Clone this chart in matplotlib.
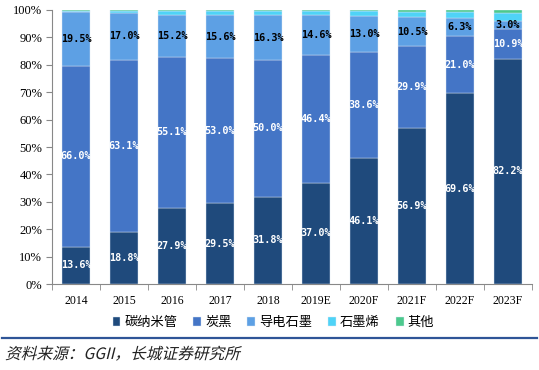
import matplotlib.pyplot as plt
import numpy as np
from matplotlib.patches import PathPatch
from matplotlib.textpath import TextPath
from matplotlib.font_manager import FontProperties
from matplotlib.transforms import Affine2D

plt.rcParams['font.family'] = ['Noto Sans CJK SC', 'DejaVu Sans']

anios = ['2014', '2015', '2016', '2017', '2018', '2019E', '2020F', '2021F', '2022F', '2023F']
nanotubos = [13.6, 18.8, 27.9, 29.5, 31.8, 37.0, 46.1, 56.9, 69.6, 82.2]
negro_humo = [66.0, 63.1, 55.1, 53.0, 50.0, 46.4, 38.6, 29.9, 21.0, 10.9]
grafito = [19.5, 17.0, 15.2, 15.6, 16.3, 14.6, 13.0, 10.5, 6.3, 3.0]
grafeno = [0.4, 0.6, 1.3, 1.4, 1.4, 1.5, 1.8, 2.1, 2.4, 2.9]
otros = [0.5, 0.5, 0.5, 0.5, 0.5, 0.5, 0.5, 0.6, 0.7, 1.0]

series = [
    ('碳纳米管', nanotubos, '#1f4a7c', 'white'),
    ('炭黑', negro_humo, '#4475c6', 'white'),
    ('导电石墨', grafito, '#5da0e4', 'black'),
    ('石墨烯', grafeno, '#4fd3f7', None),
    ('其他', otros, '#4cc98d', None),
]

fig = plt.figure(figsize=(5.39, 3.70), dpi=100)
ax = fig.add_axes([0.0965, 0.2324, 0.8905, 0.7406])

x = np.arange(len(anios))
base = np.zeros(len(anios))
for nombre, valores, color, color_txt in series:
    valores = np.array(valores)
    ax.bar(x, valores, width=0.57, bottom=base, color=color, label=nombre,
           edgecolor='#dbe7f5', linewidth=0.3)
    if color_txt:
        for xi, b, v in zip(x, base, valores):
            ax.text(xi, b + v / 2, f'{v:.1f}%', ha='center', va='center',
                    color=color_txt, fontsize=7.3, fontweight='bold',
                    family='DejaVu Sans Mono')
    base += valores

ax.set_xlim(-0.5, len(anios) - 0.5)
ax.set_ylim(0, 100)
ax.set_yticks(np.arange(0, 101, 10))
ax.set_yticklabels([f'{v}%' for v in range(0, 101, 10)],
                   family='Liberation Serif', fontsize=9)
ax.set_xticks(x)
ax.set_xticklabels(anios, family='Liberation Serif', fontsize=8.5)
ax.set_xticks(np.arange(-0.5, len(anios)), minor=True)
ax.tick_params(axis='x', which='major', length=0, pad=8)
ax.tick_params(axis='x', which='minor', length=4, color='#888888')
ax.tick_params(axis='y', length=4, color='#888888', pad=3)
for lado in ['top', 'right']:
    ax.spines[lado].set_visible(False)
for lado in ['left', 'bottom']:
    ax.spines[lado].set_color('#888888')

fig.legend(loc='center', bbox_to_anchor=(0.507, 0.128), ncol=5, frameon=False,
           fontsize=9.5, handlelength=0.6, handleheight=0.6, handletextpad=0.3,
           columnspacing=1.2)

fig.add_artist(plt.Line2D([0.004, 0.996], [0.086, 0.086], color='#2f5597',
                          linewidth=1.6, transform=fig.transFigure))

# texto de la fuente en cursiva (inclinado a mano, la fuente CJK no tiene itálica)
ruta = TextPath((0, 0), '资料来源：GGII，长城证券研究所', size=11.3,
                prop=FontProperties(family='Noto Sans CJK SC'))
trans = Affine2D().skew_deg(14, 0).scale(1 / 72).translate(0.05, 0.11) + fig.dpi_scale_trans
fig.add_artist(PathPatch(ruta, transform=trans, color='#222222', lw=0))

fig.savefig('out.png', dpi=100)
